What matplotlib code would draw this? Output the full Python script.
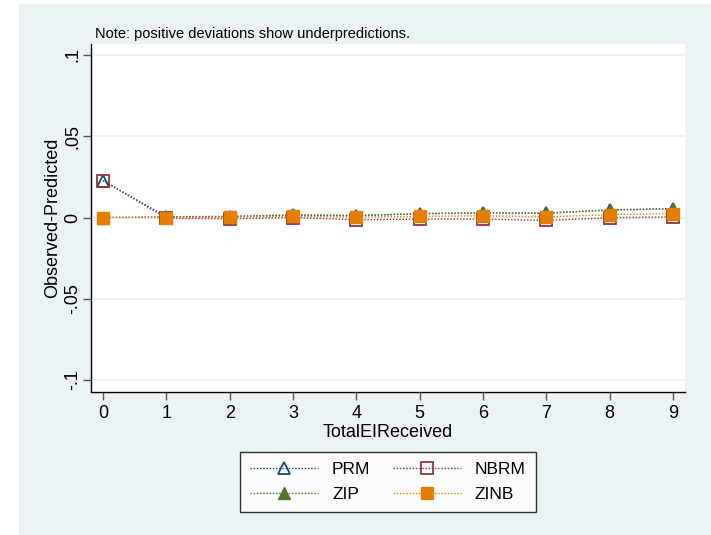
import numpy as np
import matplotlib
matplotlib.use("Agg")
import matplotlib.pyplot as plt
from matplotlib.patches import Rectangle

plt.rcParams['font.family'] = ['Liberation Sans', 'DejaVu Sans']

counts = [0, 1, 2, 3, 4, 5, 6, 7, 8, 9]
prm = [0.0227, 0.0005, 0.0006, 0.0015, 0.0012, 0.0023, 0.0029, 0.0026, 0.0046, 0.0054]
nbrm = [0.0227, -0.0004, -0.0008, 0.0000, -0.0014, -0.0010, -0.0010, -0.0018, -0.0002, 0.0004]
zip_ = [0.0000, 0.0005, 0.0006, 0.0016, 0.0012, 0.0024, 0.0030, 0.0027, 0.0047, 0.0055]
zinb = [0.0000, 0.0000, 0.0003, 0.0007, 0.0003, 0.0007, 0.0011, 0.0004, 0.0018, 0.0024]
yticks = [-0.1, -0.05, 0, 0.05, 0.1]
yticklabels = ["-.1", "-.05", "0", ".05", ".1"]

bg = "#EAF2F3"
W, H = 711, 535
fig = plt.figure(figsize=(W/100, H/100), dpi=100)
fig.patches.append(Rectangle((19/W, 0), 1 - 19/W, (H-4)/H, transform=fig.transFigure,
                             facecolor=bg, edgecolor="none", zorder=-10))

ax = fig.add_axes([91/W, 1 - 392/H, (685-91)/W, (392-44)/H])
ax.set_facecolor("white")

dot = (0, (1, 1.3))
h_prm, = ax.plot(counts, prm, color="#1A476F", ls=dot, lw=1, marker="^", ms=8.5,
                 mfc="none", mec="#1A476F", mew=1.3, label="PRM")
h_nbrm, = ax.plot(counts, nbrm, color="#90353B", ls=dot, lw=1, marker="s", ms=8,
                  mfc="none", mec="#90353B", mew=1.3, label="NBRM")
h_zip, = ax.plot(counts, zip_, color="#55752F", ls=dot, lw=1, marker="^", ms=8.5,
                 mfc="#55752F", mec="#55752F", label="ZIP")
h_zinb, = ax.plot(counts, zinb, color="#E37E00", ls=dot, lw=1, marker="s", ms=8,
                  mfc="#E37E00", mec="#E37E00", label="ZINB")

ax.set_xlim(-0.19, 9.19)
ax.set_ylim(-0.1074, 0.1068)
ax.set_xticks(counts)
ax.set_yticks(yticks)
ax.set_yticklabels(yticklabels, rotation=90, va="center")
ax.grid(axis="y", color=bg, lw=1.3)
ax.set_axisbelow(True)
for s in ["top", "right"]:
    ax.spines[s].set_visible(False)
for s in ["left", "bottom"]:
    ax.spines[s].set_color("black")
    ax.spines[s].set_linewidth(1)
ax.tick_params(direction="out", length=6, width=1, color="#555555", labelsize=13, pad=3)
ax.tick_params(axis="y", pad=1)
ax.set_xlabel("TotalEIReceived", fontsize=13, labelpad=2)
ax.set_ylabel("Observed-Predicted", fontsize=13, labelpad=2)

fig.text(95/W, 1 - 38/H, "Note: positive deviations show underpredictions.",
         fontsize=10.5, va="baseline", ha="left")

# row-major order like the original: PRM NBRM / ZIP ZINB
leg = fig.legend([h_prm, h_zip, h_nbrm, h_zinb], ["PRM", "ZIP", "NBRM", "ZINB"],
                 loc="center", bbox_to_anchor=(388/W, 1 - 482/H), ncol=2,
                 fontsize=12.5, handlelength=3.9, columnspacing=1.3,
                 handletextpad=0.8, frameon=True, fancybox=False,
                 borderpad=0.6, labelspacing=0.55)
leg.get_frame().set_edgecolor("black")
leg.get_frame().set_linewidth(1)

fig.savefig("out.png", dpi=100, facecolor="white")
